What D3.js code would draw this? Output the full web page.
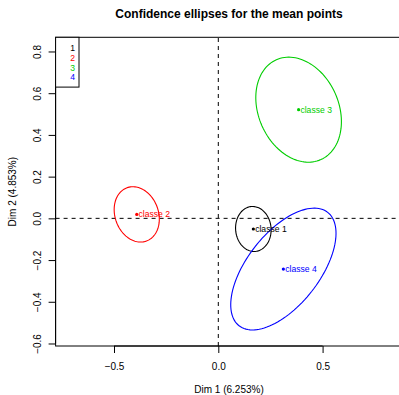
<!DOCTYPE html>
<html>
<head>
<meta charset="utf-8">
<script src="https://cdn.jsdelivr.net/npm/d3@7"></script>
<style>
body { margin: 0; background: #fff; }
svg { display: block; font-family: "Liberation Sans", Arial, Helvetica, sans-serif; }
</style>
</head>
<body>
<div id="chart"></div>
<script>
// mean points of each class (Dim 1, Dim 2)
const classes = ["classe 1", "classe 2", "classe 3", "classe 4"];
const legendLabels = ["1", "2", "3", "4"];
const meanX = [0.168, -0.391, 0.385, 0.312];
const meanY = [-0.051, 0.019, 0.521, -0.243];
// confidence ellipses: semi axes and orientation (degrees)
const ellA = [0.108, 0.136, 0.262, 0.345];
const ellB = [0.085, 0.104, 0.192, 0.173];
const ellAngle = [95, 110, 114, 52];

const xTicks = [-0.5, 0, 0.5];
const yTicks = [-0.6, -0.4, -0.2, 0, 0.2, 0.4, 0.6, 0.8];

const palette = ["#000000", "#FF0000", "#00CD00", "#0000FF"];

const W = 399, H = 395;

const svg = d3.select("#chart").append("svg")
	.attr("width", W)
	.attr("height", H);

// same px per unit on both axes (asp = 1)
const x = d3.scaleLinear().domain([-0.78, 0.885]).range([55.6, 402.9]);
const y = d3.scaleLinear().domain([-0.612, 0.868]).range([346, 37.3]);

// title
svg.append("text")
	.attr("x", 229)
	.attr("y", 18)
	.attr("text-anchor", "middle")
	.attr("font-size", 12)
	.attr("font-weight", "bold")
	.text("Confidence ellipses for the mean points");

// box
svg.append("rect")
	.attr("x", x.range()[0])
	.attr("y", y.range()[1])
	.attr("width", x.range()[1] - x.range()[0])
	.attr("height", y.range()[0] - y.range()[1])
	.attr("fill", "none")
	.attr("stroke", "#000");

// dashed axes through origin
svg.append("line")
	.attr("x1", x.range()[0]).attr("x2", x.range()[1])
	.attr("y1", y(0)).attr("y2", y(0))
	.attr("stroke", "#000")
	.attr("stroke-dasharray", "4,4");
svg.append("line")
	.attr("x1", x(0)).attr("x2", x(0))
	.attr("y1", y.range()[0]).attr("y2", y.range()[1])
	.attr("stroke", "#000")
	.attr("stroke-dasharray", "4,4");

// x axis
const gx = svg.append("g")
	.attr("transform", `translate(0,${y.range()[0]})`)
	.call(d3.axisBottom(x).tickValues(xTicks).tickSize(7).tickFormat(d3.format(".1f")));
gx.select(".domain").remove();
gx.append("line")
	.attr("x1", x(xTicks[0])).attr("x2", x(xTicks[xTicks.length - 1]))
	.attr("stroke", "#000");
gx.selectAll(".tick text")
	.attr("y", 23.5)
	.attr("dy", 0)
	.attr("font-size", 10)
	.attr("font-family", null)
	.attr("fill", "#000")
	.text(d => d3.format(".1f")(d).replace("-", "\u2212"));

// y axis
const gy = svg.append("g")
	.attr("transform", `translate(${x.range()[0]},0)`)
	.call(d3.axisLeft(y).tickValues(yTicks).tickSize(7).tickFormat(d3.format(".1f")));
gy.select(".domain").remove();
gy.append("line")
	.attr("y1", y(yTicks[0])).attr("y2", y(yTicks[yTicks.length - 1]))
	.attr("stroke", "#000");
gy.selectAll(".tick text")
	.attr("transform", "rotate(-90)")
	.attr("x", 0)
	.attr("y", -15)
	.attr("dy", 0)
	.attr("text-anchor", "middle")
	.attr("font-size", 10)
	.attr("font-family", null)
	.attr("fill", "#000")
	.text(d => d3.format(".1f")(d).replace("-", "\u2212"));
svg.selectAll(".tick line").attr("stroke", "#000");

// axis titles
svg.append("text")
	.attr("x", 229)
	.attr("y", 393)
	.attr("text-anchor", "middle")
	.attr("font-size", 10)
	.text("Dim 1 (6.253%)");
svg.append("text")
	.attr("transform", `translate(16,${(y.range()[0] + y.range()[1]) / 2}) rotate(-90)`)
	.attr("text-anchor", "middle")
	.attr("font-size", 10)
	.text("Dim 2 (4.853%)");

// ellipses
const line = d3.line()
	.x(p => x(p[0]))
	.y(p => y(p[1]))
	.curve(d3.curveLinearClosed);

function ellipsePoints(i) {
	const th = ellAngle[i] * Math.PI / 180;
	const pts = [];
	for (let k = 0; k < 120; k++) {
		const t = k / 120 * 2 * Math.PI;
		const u = ellA[i] * Math.cos(t), v = ellB[i] * Math.sin(t);
		pts.push([meanX[i] + u * Math.cos(th) - v * Math.sin(th),
		          meanY[i] + u * Math.sin(th) + v * Math.cos(th)]);
	}
	return pts;
}

const plot = svg.append("g");
plot.selectAll("path.ell")
	.data(classes)
	.join("path")
	.attr("class", "ell")
	.attr("d", (d, i) => line(ellipsePoints(i)))
	.attr("fill", "none")
	.attr("stroke", (d, i) => palette[i])
	.attr("stroke-width", 1.1);

// mean points + labels
plot.selectAll("circle.pt")
	.data(classes)
	.join("circle")
	.attr("class", "pt")
	.attr("cx", (d, i) => x(meanX[i]))
	.attr("cy", (d, i) => y(meanY[i]))
	.attr("r", 1.6)
	.attr("fill", (d, i) => palette[i]);

plot.selectAll("text.lab")
	.data(classes)
	.join("text")
	.attr("class", "lab")
	.attr("x", (d, i) => x(meanX[i]) + 1.8)
	.attr("y", (d, i) => y(meanY[i]) + 3)
	.attr("font-size", 8.6)
	.attr("fill", (d, i) => palette[i])
	.text(d => d);

// legend
const lg = svg.append("g");
lg.append("rect")
	.attr("x", x.range()[0])
	.attr("y", y.range()[1])
	.attr("width", 23.4)
	.attr("height", 49.8)
	.attr("fill", "#fff")
	.attr("stroke", "#000");
lg.selectAll("text")
	.data(legendLabels)
	.join("text")
	.attr("x", 75)
	.attr("y", (d, i) => 51.3 + i * 9.7)
	.attr("text-anchor", "end")
	.attr("font-size", 8.6)
	.attr("fill", (d, i) => palette[i])
	.text(d => d);
</script>
</body>
</html>
